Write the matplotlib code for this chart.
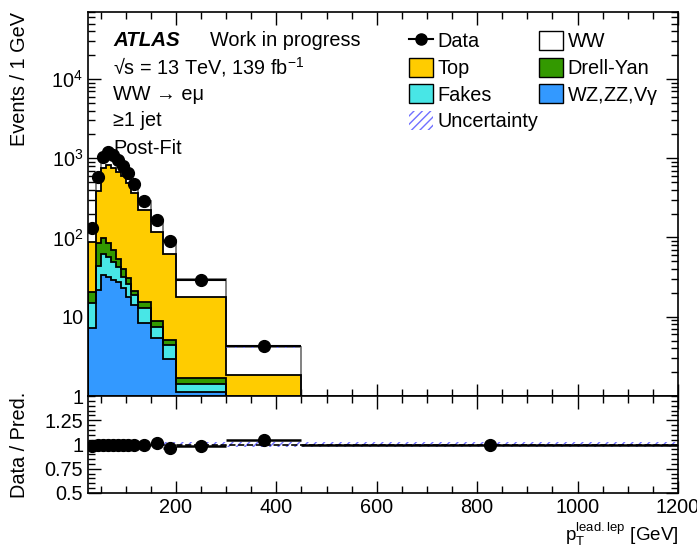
import matplotlib
matplotlib.use("Agg")
import matplotlib.pyplot as plt
import numpy as np
from matplotlib.patches import Patch
from matplotlib.lines import Line2D
from matplotlib.ticker import FixedLocator, MultipleLocator, FuncFormatter, LogLocator, NullFormatter

plt.rcParams['font.family'] = ['Liberation Sans', 'DejaVu Sans']
plt.rcParams['mathtext.default'] = 'regular'

# bin edges in GeV
edges = np.array([25, 40, 50, 60, 70, 80, 90, 100, 110, 125, 150, 175, 200, 300, 450, 1200])

# events / GeV
data = np.array([131, 585, 1047, 1210, 1099, 951, 798, 646, 478, 291, 164, 90, 29, 4.3, 0.3])
vv = np.array([7.2, 21.8, 33.6, 32.0, 29.1, 27.7, 23.0, 18.0, 14.1, 8.3, 5.35, 2.9, 1.13, 0.3, 0.04])
fakes = np.array([7.8, 21.9, 28.4, 24.0, 20.5, 15.2, 9.0, 8.0, 4.5, 4.7, 2.15, 1.46, 0.29, 0.15, 0.02])
dy = np.array([5.7, 40.8, 35.7, 28.5, 19.9, 10.1, 7.6, 4.6, 2.5, 2.5, 1.4, 0.74, 0.25, 0.1, 0.02])
top = np.array([67.3, 300.5, 660, 730.5, 690.5, 627, 550.4, 459.4, 346.9, 209.5, 109.1, 56.9, 15.9, 1.29, 0.07])
ww = np.array([45.7, 206, 300, 395, 339, 271, 208, 156, 110, 66, 44, 31, 12, 2.26, 0.15])
rel_unc = np.array([0.02, 0.02, 0.02, 0.02, 0.02, 0.02, 0.02, 0.02, 0.02, 0.02, 0.02, 0.025, 0.025, 0.03, 0.03])

names = ['WZ,ZZ,V$\\gamma$', 'Fakes', 'Drell-Yan', 'Top', 'WW']
colors = ['#3399ff', '#48e6e6', '#339900', '#ffcc00', 'white']

comps = [vv, fakes, dy, top, ww]
cum = np.cumsum(comps, axis=0)
total = cum[-1]
ratio = data / total
centers = 0.5 * (edges[1:] + edges[:-1])
halfw = 0.5 * (edges[1:] - edges[:-1])

FS = 14.3

fig = plt.figure(figsize=(6.97, 5.53), dpi=100)
ax = fig.add_axes([88/697, 157/553, 590/697, 384/553])
rax = fig.add_axes([88/697, 60/553, 590/697, 97/553], sharex=ax)

# stack: draw cumulative from top down
for i in range(len(comps) - 1, -1, -1):
    ec = '#777777' if i == len(comps) - 1 else 'black'
    ax.stairs(cum[i], edges, baseline=0.1, fill=True, facecolor=colors[i], lw=0, zorder=2)
    ax.stairs(cum[i], edges, baseline=0.1, fill=False, color=ec, lw=1.3, zorder=3)

ax.stairs(total * (1 + rel_unc), edges, baseline=total * (1 - rel_unc), fill=True,
          facecolor='none', edgecolor='#7070ff', hatch='////', lw=0, zorder=4)

ax.errorbar(centers, data, xerr=halfw, fmt='o', color='black', ms=8.5, elinewidth=1.5,
            capsize=0, zorder=5)

ax.set_yscale('log')
ax.set_ylim(1, 7e4)
ax.set_xlim(25, 1200)

def logfmt(v, pos):
    if v == 1:
        return '1'
    if v == 10:
        return '10'
    return '$10^{%d}$' % int(round(np.log10(v)))

ax.yaxis.set_major_locator(LogLocator(base=10, numticks=10))
ax.yaxis.set_major_formatter(FuncFormatter(logfmt))
ax.yaxis.set_minor_locator(LogLocator(base=10, subs=np.arange(2, 10), numticks=20))
ax.yaxis.set_minor_formatter(NullFormatter())
ax.xaxis.set_major_locator(MultipleLocator(200))
ax.xaxis.set_minor_locator(MultipleLocator(50))
plt.setp(ax.get_xticklabels(), visible=False)

for a in (ax, rax):
    a.tick_params(which='both', direction='in', top=True, right=True, labelsize=FS)
    a.tick_params(which='major', length=9, width=1)
    a.tick_params(which='minor', length=5, width=1)
    for s in a.spines.values():
        s.set_linewidth(1.2)

ax.set_ylabel('Events / 1 GeV', fontsize=FS, loc='top')

# ratio panel
rax.stairs(1 + rel_unc, edges, baseline=1 - rel_unc, fill=True, facecolor='none',
           edgecolor='#7070ff', hatch='////', lw=0, zorder=2)
rax.axhline(1, color='black', ls='--', lw=1.2, zorder=3)
rax.errorbar(centers, ratio, xerr=halfw, fmt='o', color='black', ms=8.5, elinewidth=1.8,
             capsize=0, zorder=5)
rax.set_ylim(0.5, 1.5)
rax.yaxis.set_major_locator(FixedLocator([0.5, 0.75, 1.0, 1.25]))
rax.yaxis.set_major_formatter(FuncFormatter(lambda v, p: {0.5: '0.5', 0.75: '0.75', 1.0: '1', 1.25: '1.25'}.get(round(v, 2), '')))
rax.yaxis.set_minor_locator(MultipleLocator(0.05))
rax.set_ylabel('Data / Pred.', fontsize=FS)
rax.yaxis.set_label_coords(-0.1, 0.5)
ax.yaxis.set_label_coords(-0.1, 1.0)
rax.set_xlabel('$p_{T}^{lead.lep}$ [GeV]', fontsize=13.5, loc='right')
rax.xaxis.set_label_coords(1.0, -0.28)

# labels
fig.text(113/697, 1 - 40/553, 'ATLAS', fontsize=FS + 0.5, fontweight='bold', fontstyle='italic', va='center')
fig.text(210/697, 1 - 40/553, 'Work in progress', fontsize=FS, va='center')
fig.text(113/697, 1 - 67/553, '√s = 13 TeV, 139 fb$^{-1}$', fontsize=FS, va='center')
fig.text(113/697, 1 - 94/553, 'WW → eμ', fontsize=FS, va='center')
fig.text(113/697, 1 - 121/553, '≥1 jet', fontsize=FS, va='center')
fig.text(113/697, 1 - 148/553, 'Post-Fit', fontsize=FS, va='center')

handles = [
    Line2D([0], [0], marker='o', color='black', lw=1.5, ms=8),
    Patch(facecolor=colors[3], edgecolor='black'),
    Patch(facecolor=colors[1], edgecolor='black'),
    Patch(facecolor='none', edgecolor='#7070ff', hatch='////', lw=0),
    Patch(facecolor='white', edgecolor='black'),
    Patch(facecolor=colors[2], edgecolor='black'),
    Patch(facecolor=colors[0], edgecolor='black'),
]
labels = ['Data', 'Top', 'Fakes', 'Uncertainty', 'WW', 'Drell-Yan', names[0]]
fig.legend(handles, labels, ncol=2, frameon=False, fontsize=FS,
           loc='upper left', bbox_to_anchor=(409/697, 1 - 31/553),
           handlelength=1.2, handleheight=1.1, handletextpad=0.25,
           labelspacing=0.32, columnspacing=0.0, borderaxespad=0, borderpad=0)

fig.savefig('out.png', dpi=100)
